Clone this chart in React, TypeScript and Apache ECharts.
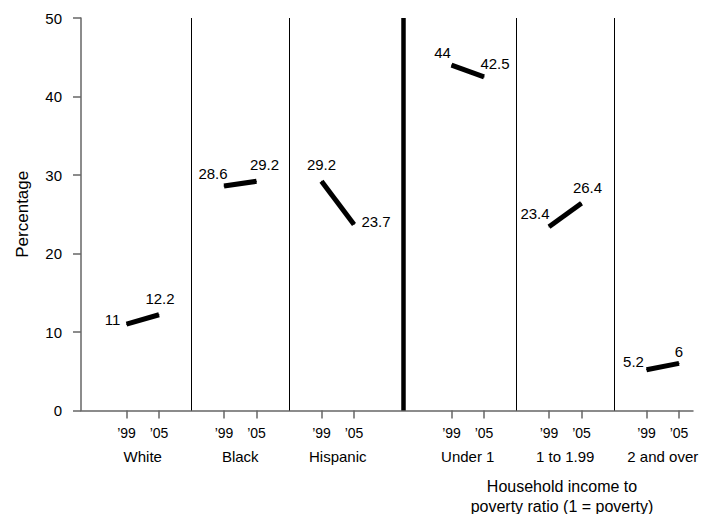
import React, { useEffect, useRef } from "react";
import * as echarts from "echarts";

const groups = ["White", "Black", "Hispanic", "Under 1", "1 to 1.99", "2 and over"];
const values99 = [11, 28.6, 29.2, 44, 23.4, 5.2];
const values05 = [12.2, 29.2, 23.7, 42.5, 26.4, 6];
const xPos99 = [1.4, 4.4, 7.4, 11.4, 14.4, 17.4];
const xPos05 = [2.4, 5.4, 8.4, 12.4, 15.4, 18.4];
const separators = [3.4, 6.4, 9.9, 13.4, 16.4];
const thickSeparator = 9.9;
const yTicks = [0, 10, 20, 30, 40, 50];
const yearLabels = ["’99", "’05"];

// label offsets (pixels) for '99 and '05 value labels
const offsets99 = [[-14, -5], [-11, -12], [0, -17], [-9, -13], [-14, -13], [-13, -8]];
const offsets05 = [[1, -16], [8, -17], [22, -3], [11, -13], [6, -16], [0, -12]];

const FONT = "'Liberation Sans', Arial, Helvetica, sans-serif";

export default function App() {
  const ref = useRef<HTMLDivElement>(null);
  useEffect(() => {
    if (!ref.current) return;
    const chart = echarts.init(ref.current, null, { renderer: "svg" });
    const tickVals: number[] = [];
    xPos99.forEach((v, i) => { tickVals.push(v, xPos05[i]); });
    const centers = xPos99.map((v, i) => (v + xPos05[i]) / 2);

    const lineSeries = groups.map((g, i) => ({
      type: "line",
      name: g,
      xAxisIndex: 0,
      symbol: "circle",
      symbolSize: 1,
      itemStyle: { color: "#000" },
      lineStyle: { color: "#000", width: 5, cap: "butt" },
      label: {
        show: true,
        position: "inside",
        align: "center",
        verticalAlign: "middle",
        color: "#000",
        fontSize: 15,
        fontFamily: FONT,
        formatter: (p: any) => String(p.value[1]),
      },
      data: [
        { value: [xPos99[i], values99[i]], label: { offset: offsets99[i] } },
        { value: [xPos05[i], values05[i]], label: { offset: offsets05[i] } },
      ],
      silent: true,
      z: 3,
    }));

    const sepSeries = {
      type: "line",
      data: [],
      markLine: {
        silent: true,
        symbol: "none",
        label: { show: false },
        data: separators.map((s) => ({
          xAxis: s,
          lineStyle: { color: "#000", width: s === thickSeparator ? 4.5 : 1, type: "solid" },
        })),
      },
    };

    chart.setOption({
      animation: false,
      backgroundColor: "#fff",
      grid: { left: 81, right: 21, top: 18, bottom: 103.5 },
      xAxis: [
        {
          type: "value",
          min: 0,
          max: 18.83,
          position: "bottom",
          axisLine: { show: true, lineStyle: { color: "#666", width: 1.5 } },
          axisTick: { show: true, customValues: tickVals, length: 8, lineStyle: { color: "#666", width: 1.5 } },
          axisLabel: {
            show: true,
            customValues: tickVals,
            margin: 15,
            color: "#000",
            fontSize: 14,
            fontFamily: FONT,
            formatter: (v: number) =>
              xPos99.some((p) => Math.abs(p - v) < 1e-6) ? yearLabels[0] : yearLabels[1],
          },
          splitLine: { show: false },
        },
        {
          type: "value",
          min: 0,
          max: 18.83,
          position: "bottom",
          offset: 0,
          axisLine: { show: false },
          axisTick: { show: false },
          axisLabel: {
            show: true,
            customValues: centers,
            margin: 38,
            color: "#000",
            fontSize: 15,
            fontFamily: FONT,
            formatter: (v: number) => {
              const idx = centers.findIndex((c) => Math.abs(c - v) < 1e-6);
              return idx >= 0 ? groups[idx] : "";
            },
          },
          splitLine: { show: false },
        },
      ],
      yAxis: {
        type: "value",
        min: 0,
        max: 50,
        interval: 10,
        name: "Percentage",
        nameLocation: "middle",
        nameRotate: 90,
        nameGap: 50,
        nameTextStyle: { color: "#000", fontSize: 17, fontFamily: FONT },
        axisLine: { show: true, lineStyle: { color: "#666", width: 1.5 } },
        axisTick: { show: true, length: 8, lineStyle: { color: "#666", width: 1.5 } },
        axisLabel: {
          margin: 19,
          color: "#000",
          fontSize: 15,
          fontFamily: FONT,
          customValues: yTicks,
        },
        splitLine: { show: false },
      },
      graphic: [
        {
          type: "text",
          x: 562,
          y: 476,
          style: {
            text: "Household income to\npoverty ratio (1 = poverty)",
            align: "center",
            verticalAlign: "top",
            lineHeight: 20,
            fontSize: 16,
            fontFamily: FONT,
            fill: "#000",
          },
        },
      ],
      series: [sepSeries, ...lineSeries],
    });
    return () => chart.dispose();
  }, []);
  return (
    <div
      ref={ref}
      style={{ position: "fixed", left: 0, top: 0, width: 714, height: 514, background: "#fff" }}
    />
  );
}
